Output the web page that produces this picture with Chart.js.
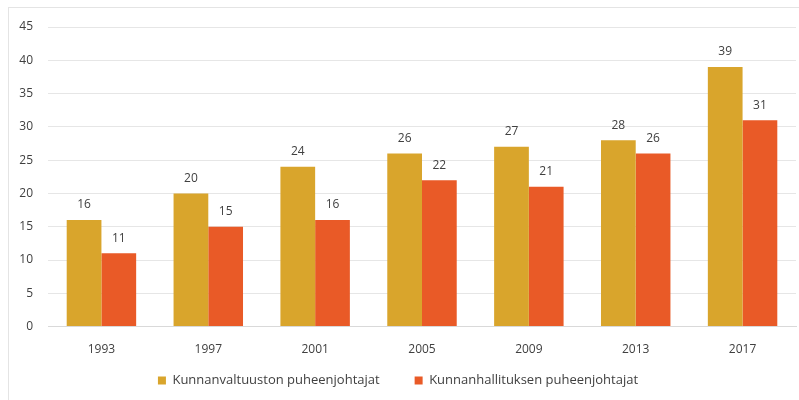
<!DOCTYPE html>
<html>
<head>
<meta charset="utf-8">
<script src="https://cdn.jsdelivr.net/npm/chart.js@4/dist/chart.umd.min.js"></script>
<style>
  html, body { margin:0; padding:0; background:#fff; }
  #wrap { position:relative; width:799px; height:400px; overflow:hidden; }
  #frame { position:absolute; left:8px; top:7px; width:820px; height:420px; border:1px solid #e4e4e4; }
  canvas { position:absolute; left:0; top:0; }
</style>
</head>
<body>
<div id="wrap">
  <div id="frame"></div>
  <canvas id="chart" width="799" height="400"></canvas>
</div>
<script>
/* ===== Data ===== */
const years     = ['1993','1997','2001','2005','2009','2013','2017'];
const valtuusto = [16, 20, 24, 26, 27, 28, 39];
const hallitus  = [11, 15, 16, 22, 21, 26, 31];
const seriesNames = ['Kunnanvaltuuston puheenjohtajat', 'Kunnanhallituksen puheenjohtajat'];

const FONT = '"Open Sans", "Liberation Sans", sans-serif';

/* ===== Value labels above bars ===== */
const valueLabels = {
  id: 'valueLabels',
  afterDatasetsDraw(chart){
    const ctx = chart.ctx;
    ctx.save();
    ctx.font = '12px ' + FONT;
    ctx.fillStyle = '#404040';
    ctx.textAlign = 'center';
    ctx.textBaseline = 'middle';
    chart.data.datasets.forEach((ds, i) => {
      chart.getDatasetMeta(i).data.forEach((bar, j) => {
        ctx.fillText(ds.data[j], bar.x, bar.y - 15);
      });
    });
    ctx.restore();
  }
};

/* legend keeps wide horizontal spacing, but sits closer to the axis */
const pullLegend = {
  id: 'pullLegend',
  afterLayout(chart){
    const lg = chart.legend;
    if (!lg) return;
    lg.top -= 26;
    lg.bottom = lg.top + 70;   // room for the (padded) item row when clipping
  }
};

new Chart(document.getElementById('chart'), {
  type: 'bar',
  data: {
    labels: years,
    datasets: [
      { label: seriesNames[0], data: valtuusto, backgroundColor: '#D9A52C' },
      { label: seriesNames[1], data: hallitus,  backgroundColor: '#E95A27' }
    ]
  },
  options: {
    responsive: false,
    animation: false,
    devicePixelRatio: 1,
    layout: { padding: { left: 0, right: 3, top: 27, bottom: 8 } },
    datasets: { bar: { categoryPercentage: 0.65, barPercentage: 1.0 } },
    plugins: {
      legend: {
        position: 'bottom',
        maxHeight: 27,
        labels: { boxWidth: 8, boxHeight: 8, padding: 35, color: '#404040', font: { family: FONT, size: 13 } }
      },
      tooltip: { enabled: false }
    },
    scales: {
      x: {
        grid: { display: false },
        border: { display: true, color: '#d9d9d9' },
        ticks: { color: '#404040', padding: 8, font: { family: FONT, size: 12 } }
      },
      y: {
        min: 0, max: 45,
        afterFit(scale){ scale.width = 48; },
        grid: { color: '#e6e6e6', drawTicks: false },
        border: { display: false },
        ticks: { stepSize: 5, padding: 15, color: '#404040', font: { family: FONT, size: 12 } }
      }
    }
  },
  plugins: [valueLabels, pullLegend]
});
</script>
</body>
</html>
